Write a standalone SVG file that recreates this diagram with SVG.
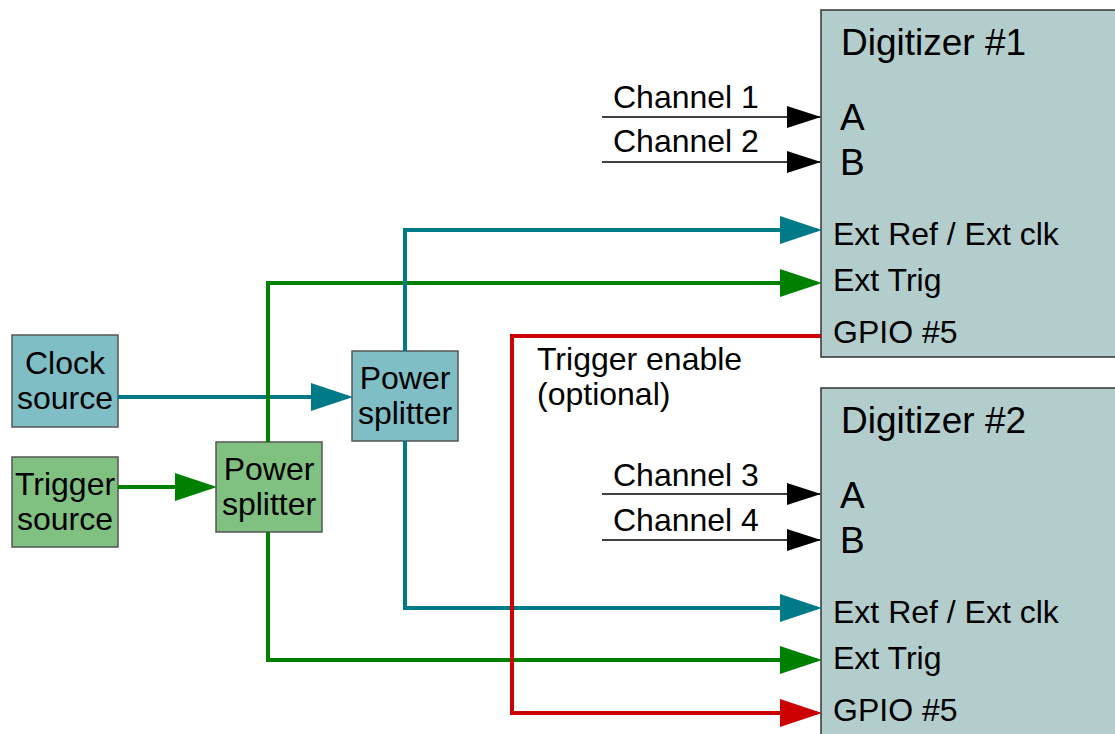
<svg xmlns="http://www.w3.org/2000/svg" width="1115" height="734" viewBox="0 0 1115 734">
<style>
text{font-family:"Liberation Sans",Arial,sans-serif;fill:#000}
.t{font-size:32px}
.h{font-size:37px}
.c{text-anchor:middle}
.box{stroke:#555;stroke-width:1.5}
.dig{fill:#b3cccc;stroke:#333;stroke-width:1.5}
.teal{fill:#80bec6}
.grn{fill:#80c080}
.lt{fill:none;stroke:#007a87;stroke-width:4}
.lg{fill:none;stroke:#008000;stroke-width:4}
.lr{fill:none;stroke:#cc0000;stroke-width:4}
.lk{fill:none;stroke:#000;stroke-width:1.5}
</style>
<defs>
<marker id="at" markerUnits="userSpaceOnUse" markerWidth="42" markerHeight="28" refX="37" refY="14" orient="auto"><path d="M0,0L42,14L0,28z" fill="#007a87"/></marker>
<marker id="ag" markerUnits="userSpaceOnUse" markerWidth="42" markerHeight="28" refX="37" refY="14" orient="auto"><path d="M0,0L42,14L0,28z" fill="#008000"/></marker>
<marker id="ar" markerUnits="userSpaceOnUse" markerWidth="42" markerHeight="28" refX="37" refY="14" orient="auto"><path d="M0,0L42,14L0,28z" fill="#cc0000"/></marker>
<marker id="ak" markerUnits="userSpaceOnUse" markerWidth="34" markerHeight="22" refX="33" refY="11" orient="auto"><path d="M0,0L34,11L0,22z" fill="#000"/></marker>
</defs>
<g id="digitizer1">
<rect class="dig" x="821" y="10" width="320" height="347"/>
<text class="h" x="841" y="55">Digitizer #1</text>
<text class="h" x="840" y="130">A</text>
<text class="h" x="840" y="175">B</text>
<text class="t" x="833" y="245">Ext Ref / Ext clk</text>
<text class="t" x="833" y="291">Ext Trig</text>
<text class="t" x="833" y="343">GPIO #5</text>
</g>
<g id="digitizer2">
<rect class="dig" x="821" y="388" width="320" height="400"/>
<text class="h" x="841" y="433">Digitizer #2</text>
<text class="h" x="840" y="508">A</text>
<text class="h" x="840" y="553">B</text>
<text class="t" x="833" y="623">Ext Ref / Ext clk</text>
<text class="t" x="833" y="669">Ext Trig</text>
<text class="t" x="833" y="721">GPIO #5</text>
</g>
<g id="clock-source">
<rect class="box teal" x="12" y="335" width="106" height="92"/>
<text class="t c" x="65" y="374">Clock</text>
<text class="t c" x="65" y="409">source</text>
</g>
<g id="trigger-source">
<rect class="box grn" x="12" y="457" width="106" height="90"/>
<text class="t c" x="65" y="495">Trigger</text>
<text class="t c" x="65" y="530">source</text>
</g>
<g id="power-splitter-trig">
<rect class="box grn" x="216" y="442" width="106" height="90"/>
<text class="t c" x="269" y="480">Power</text>
<text class="t c" x="269" y="515">splitter</text>
</g>
<g id="power-splitter-clk">
<rect class="box teal" x="352" y="351" width="106" height="90"/>
<text class="t c" x="405" y="389">Power</text>
<text class="t c" x="405" y="424">splitter</text>
</g>
<g id="labels">
<text class="t" x="537" y="370">Trigger enable</text>
<text class="t" x="537" y="405">(optional)</text>
<text class="t" x="613" y="108">Channel 1</text>
<text class="t" x="613" y="152">Channel 2</text>
<text class="t" x="613" y="486">Channel 3</text>
<text class="t" x="613" y="531">Channel 4</text>
</g>
<g id="connectors">
<path class="lt" d="M118,397H348" marker-end="url(#at)"/>
<path class="lg" d="M118,487H212" marker-end="url(#ag)"/>
<path class="lg" d="M268,442V283H817" marker-end="url(#ag)"/>
<path class="lg" d="M268,532V660H817" marker-end="url(#ag)"/>
<path class="lt" d="M405,351V230H817" marker-end="url(#at)"/>
<path class="lt" d="M405,441V608H817" marker-end="url(#at)"/>
<path class="lr" d="M821,336H512V713H817" marker-end="url(#ar)"/>
<path class="lk" d="M602,117H820" marker-end="url(#ak)"/>
<path class="lk" d="M602,162H820" marker-end="url(#ak)"/>
<path class="lk" d="M602,494H820" marker-end="url(#ak)"/>
<path class="lk" d="M602,540H820" marker-end="url(#ak)"/>
</g>
</svg>
